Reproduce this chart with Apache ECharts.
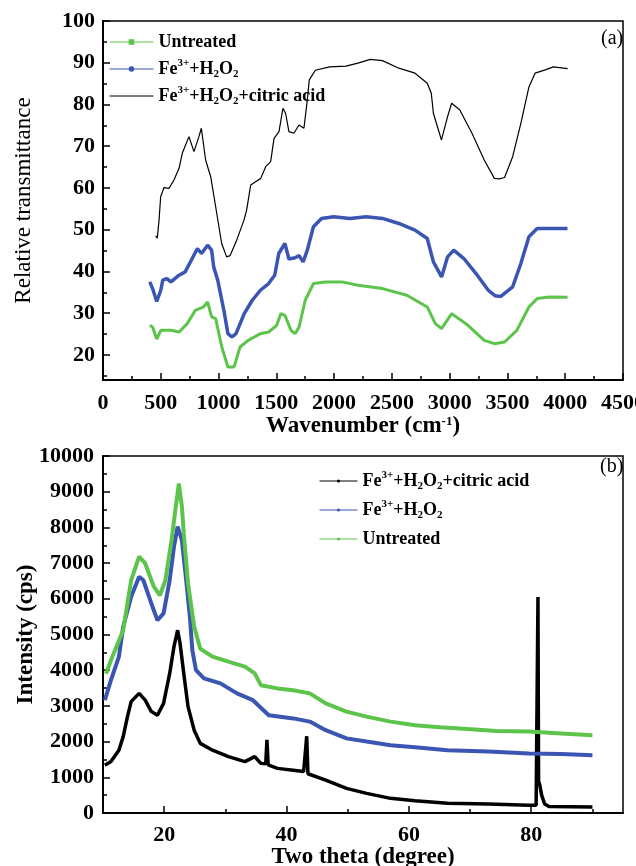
<!DOCTYPE html>
<html><head><meta charset="utf-8">
<script src="https://cdn.jsdelivr.net/npm/echarts@6/dist/echarts.min.js"></script>
<style>html,body{margin:0;padding:0;background:#fff}#c{width:636px;height:866px}</style>
</head><body><div id="c"></div>
<script>
// ---------- (a) FTIR data ----------
const ftirCitricX = [456, 470, 485, 499, 528, 571, 614, 658, 686, 744, 787, 830, 851, 888, 932, 975, 1027, 1070, 1100, 1157, 1220, 1243, 1278, 1321, 1365, 1408, 1451, 1480, 1523, 1557, 1580, 1609, 1652, 1696, 1739, 1768, 1785, 1838, 1961, 2102, 2206, 2313, 2419, 2560, 2700, 2806, 2841, 2859, 2929, 2982, 3017, 3088, 3193, 3299, 3387, 3430, 3475, 3545, 3616, 3686, 3739, 3827, 3897, 4021];
const ftirCitricY = [48.5, 48.0, 52.3, 57.9, 60.1, 59.9, 61.9, 64.7, 68.3, 72.3, 68.7, 72.3, 74.3, 66.7, 62.7, 55.5, 46.7, 43.5, 43.8, 47.5, 52.3, 54.7, 60.7, 61.5, 62.3, 65.1, 66.3, 71.9, 73.5, 79.1, 77.9, 73.5, 73.1, 75.1, 74.3, 81.1, 85.9, 88.2, 89.0, 89.2, 89.9, 90.8, 90.5, 88.7, 87.5, 85.1, 82.7, 77.9, 71.5, 77.1, 80.3, 78.7, 73.1, 66.7, 62.3, 62.2, 62.5, 67.5, 75.5, 84.2, 87.5, 88.3, 89.0, 88.6];
const ftirFeX = [405, 429, 465, 500, 517, 553, 588, 658, 711, 764, 817, 852, 905, 940, 958, 993, 1046, 1081, 1116, 1151, 1222, 1292, 1362, 1433, 1486, 1521, 1574, 1609, 1662, 1697, 1732, 1768, 1821, 1891, 1996, 2137, 2278, 2419, 2560, 2700, 2806, 2859, 2930, 2982, 3035, 3123, 3228, 3334, 3392, 3440, 3545, 3616, 3686, 3757, 3898, 4020];
const ftirFeY = [37.5, 35.9, 32.8, 35.5, 37.9, 38.3, 37.5, 39.1, 39.9, 42.7, 45.5, 44.3, 46.3, 45.1, 41.1, 37.9, 30.7, 25.1, 24.3, 25.1, 29.9, 33.1, 35.5, 37.1, 39.1, 44.3, 46.7, 43.0, 43.3, 43.8, 42.3, 45.1, 50.7, 52.7, 53.1, 52.7, 53.1, 52.7, 51.5, 49.9, 47.9, 42.3, 38.7, 43.5, 45.1, 43.1, 39.5, 35.5, 34.2, 34.0, 36.3, 41.9, 48.3, 50.3, 50.3, 50.3];
const ftirUntreatedX = [405, 429, 465, 500, 588, 658, 729, 799, 870, 905, 940, 975, 1028, 1081, 1134, 1186, 1256, 1310, 1362, 1433, 1503, 1539, 1574, 1627, 1662, 1697, 1750, 1821, 1926, 2067, 2208, 2419, 2630, 2806, 2876, 2930, 3017, 3158, 3299, 3387, 3475, 3581, 3686, 3757, 3862, 4020];
const ftirUntreatedY = [27.1, 26.7, 23.8, 25.9, 25.9, 25.5, 27.5, 30.7, 31.5, 32.7, 29.1, 28.7, 21.9, 17.1, 17.1, 21.9, 23.5, 24.3, 25.1, 25.5, 27.1, 29.9, 29.5, 25.9, 25.1, 26.7, 33.1, 37.1, 37.5, 37.5, 36.7, 35.9, 34.3, 31.5, 27.5, 26.3, 29.9, 27.1, 23.5, 22.7, 23.1, 25.9, 31.5, 33.5, 33.9, 33.8];

// ---------- (b) XRD data ----------
const xrdUntreatedX = [10.5, 11.3, 12.3, 13.3, 14.6, 15.9, 16.9, 18.3, 19.3, 20.2, 21.2, 21.9, 22.4, 22.9, 23.2, 23.9, 24.9, 25.9, 27.9, 30.5, 33.2, 34.8, 35.8, 38.5, 41.1, 43.8, 46.4, 49.8, 53.1, 57.0, 61.0, 65.0, 69.6, 74.3, 79.6, 84.9, 90.0];
const xrdUntreatedY = [3900, 4280, 4700, 5120, 6520, 7180, 6990, 6340, 6100, 6520, 7640, 8580, 9230, 8580, 7830, 6430, 5220, 4600, 4380, 4240, 4100, 3910, 3580, 3490, 3440, 3350, 3070, 2840, 2700, 2560, 2460, 2400, 2350, 2300, 2280, 2230, 2180];
const xrdFeX = [10.3, 11.3, 12.6, 13.3, 14.6, 15.9, 16.6, 17.9, 18.9, 19.9, 20.9, 21.6, 22.2, 22.9, 23.6, 24.2, 24.6, 25.2, 26.5, 29.2, 31.9, 34.5, 37.1, 41.1, 43.8, 46.4, 49.8, 53.1, 57.0, 61.0, 66.3, 73.0, 79.6, 84.9, 90.0];
const xrdFeY = [3160, 3720, 4380, 5220, 6060, 6620, 6520, 5870, 5400, 5590, 6520, 7460, 8020, 7640, 6520, 5500, 4560, 4000, 3770, 3630, 3350, 3160, 2740, 2650, 2560, 2320, 2090, 2000, 1900, 1840, 1760, 1720, 1670, 1650, 1620];
const xrdCitricX = [10.3, 11.3, 12.6, 13.3, 14.0, 14.6, 15.9, 16.9, 17.9, 18.9, 19.9, 20.9, 21.6, 22.2, 22.6, 23.2, 23.9, 24.9, 25.9, 27.9, 30.5, 33.2, 34.8, 35.8, 36.6, 36.8, 37.0, 38.5, 41.1, 42.8, 43.1, 43.3, 43.5, 43.8, 46.4, 49.8, 53.1, 57.0, 61.0, 66.3, 73.0, 79.6, 80.8, 81.1, 81.2, 81.4, 81.7, 82.2, 82.9, 90.0];
const xrdCitricY = [1340, 1440, 1760, 2140, 2700, 3120, 3350, 3160, 2840, 2740, 3070, 3910, 4660, 5120, 4750, 3910, 2980, 2320, 1950, 1760, 1580, 1440, 1580, 1390, 1380, 2050, 1350, 1250, 1200, 1160, 1150, 2150, 1100, 1060, 920, 690, 550, 410, 345, 270, 250, 220, 220, 6050, 900, 780, 500, 250, 180, 170];

// ---------- ticks ----------
const topYLabels = [20, 30, 40, 50, 60, 70, 80, 90, 100];
const topYMinor = [15, 25, 35, 45, 55, 65, 75, 85, 95];
const botXLabels = [20, 40, 60, 80];
const botXMinor = [30, 50, 70, 90];

const legendNames = {
  a_untreated: 'Untreated',
  a_fe: 'Fe{sup|3+}+H{sub|2}O{sub|2}',
  a_citric: 'Fe{sup|3+}+H{sub|2}O{sub|2}+citric acid',
  b_citric: 'Fe{sup|3+}+H{sub|2}O{sub|2}+citric acid',
  b_fe: 'Fe{sup|3+}+H{sub|2}O{sub|2}',
  b_untreated: 'Untreated'
};

const GREEN = '#5cc44a', BLUE = '#3a55b2', BLACK = '#000';
const FONT = 'Liberation Serif';
const zip = (xs, ys) => xs.map((x, i) => [x, ys[i]]);
const plain = v => String(v);

const richSS = {
  sup: {fontFamily: FONT, fontWeight: 'bold', fontSize: 11, verticalAlign: 'top', lineHeight: 11, color: '#000'},
  sub: {fontFamily: FONT, fontWeight: 'bold', fontSize: 11, verticalAlign: 'bottom', lineHeight: 11, color: '#000'}
};

const tickLabel = {fontFamily: FONT, fontWeight: 'bold', fontSize: 22, color: '#000', formatter: plain};
const axLine = {show: true, lineStyle: {color: '#000', width: 2}};

const chart = echarts.init(document.getElementById('c'), null, {renderer: 'canvas'});
chart.setOption({
  animation: false,
  backgroundColor: '#fff',
  grid: [
    {left: 103, top: 21, width: 520, height: 359, show: true, borderColor: '#000', borderWidth: 1.5, containLabel: false, outerBoundsMode: 'none'},
    {left: 103, top: 456, width: 520, height: 357, show: true, borderColor: '#000', borderWidth: 1.5, containLabel: false, outerBoundsMode: 'none'}
  ],
  xAxis: [
    {type: 'value', gridIndex: 0, min: 0, max: 4500, interval: 500,
     axisLine: axLine, axisTick: {inside: true, length: 7, lineStyle: {color: '#000', width: 1.5}},
     minorTick: {show: true, splitNumber: 2, length: 4, lineStyle: {color: '#000', width: 1.5}},
     splitLine: {show: false}, axisLabel: Object.assign({margin: 12}, tickLabel),
     name: 'Wavenumber (cm{sup|-1})', nameLocation: 'middle', nameGap: 35, nameMoveOverlap: false,
     nameTextStyle: {fontFamily: FONT, fontWeight: 'bold', fontSize: 23, color: '#000',
       rich: {sup: {fontFamily: FONT, fontWeight: 'bold', fontSize: 13, verticalAlign: 'top', lineHeight: 13, color: '#000'}}}},
    {type: 'value', gridIndex: 1, min: 10, max: 95,
     axisLine: axLine, axisTick: {inside: true, length: 7, customValues: botXLabels, lineStyle: {color: '#000', width: 1.5}},
     splitLine: {show: false}, axisLabel: Object.assign({margin: 11, customValues: botXLabels}, tickLabel),
     name: 'Two theta (degree)', nameLocation: 'middle', nameGap: 33, nameMoveOverlap: false,
     nameTextStyle: {fontFamily: FONT, fontWeight: 'bold', fontSize: 23, color: '#000'}},
    {type: 'value', gridIndex: 1, min: 10, max: 95, position: 'bottom',
     axisLine: {show: false}, axisLabel: {show: false}, splitLine: {show: false},
     axisTick: {inside: true, length: 4, customValues: botXMinor, lineStyle: {color: '#000', width: 1.5}}}
  ],
  yAxis: [
    {type: 'value', gridIndex: 0, min: 14, max: 100, position: 'left',
     axisLine: axLine, axisTick: {inside: true, length: 7, customValues: topYLabels, lineStyle: {color: '#000', width: 1.5}},
     splitLine: {show: false}, axisLabel: Object.assign({margin: 8, customValues: topYLabels}, tickLabel),
     name: 'Relative transmittance', nameLocation: 'middle', nameGap: 68, nameMoveOverlap: false,
     nameTextStyle: {fontFamily: FONT, fontWeight: 'normal', fontSize: 23, color: '#000'}},
    {type: 'value', gridIndex: 0, min: 14, max: 100, position: 'left',
     axisLine: {show: false}, axisLabel: {show: false}, splitLine: {show: false},
     axisTick: {inside: true, length: 4, customValues: topYMinor, lineStyle: {color: '#000', width: 1.5}}},
    {type: 'value', gridIndex: 1, min: 0, max: 10000, interval: 1000, position: 'left',
     axisLine: axLine, axisTick: {inside: true, length: 7, lineStyle: {color: '#000', width: 1.5}},
     minorTick: {show: true, splitNumber: 2, length: 4, lineStyle: {color: '#000', width: 1.5}},
     splitLine: {show: false}, axisLabel: Object.assign({margin: 9}, tickLabel),
     name: 'Intensity (cps)', nameLocation: 'middle', nameGap: 65, nameMoveOverlap: false,
     nameTextStyle: {fontFamily: FONT, fontWeight: 'bold', fontSize: 23, color: '#000'}}
  ],
  legend: [
    {data: ['a_untreated', 'a_fe', {name: 'a_citric', itemStyle: {opacity: 0}}], orient: 'vertical', left: 104, top: 26,
     itemWidth: 44, itemHeight: 7, itemGap: 5, selectedMode: false,
     lineStyle: {width: 1},
     formatter: n => legendNames[n],
     textStyle: {fontFamily: FONT, fontWeight: 'bold', fontSize: 18, color: '#000', lineHeight: 22, rich: richSS}},
    {data: ['b_citric', 'b_fe', 'b_untreated'], orient: 'vertical', left: 314, top: 465,
     itemWidth: 38, itemHeight: 4, itemGap: 7, selectedMode: false,
     lineStyle: {width: 1},
     formatter: n => legendNames[n],
     textStyle: {fontFamily: FONT, fontWeight: 'bold', fontSize: 18, color: '#000', lineHeight: 22, rich: richSS}}
  ],
  graphic: [
    {type: 'text', left: 601, top: 29, style: {text: '(a)', font: '20px "Liberation Serif"', fill: '#000'}},
    {type: 'text', left: 600, top: 457, style: {text: '(b)', font: '20px "Liberation Serif"', fill: '#000'}}
  ],
  series: [
    {name: 'a_untreated', type: 'line', xAxisIndex: 0, yAxisIndex: 0, data: zip(ftirUntreatedX, ftirUntreatedY),
     symbol: 'rect', showSymbol: false, color: GREEN, lineStyle: {color: GREEN, width: 3}},
    {name: 'a_fe', type: 'line', xAxisIndex: 0, yAxisIndex: 0, data: zip(ftirFeX, ftirFeY),
     symbol: 'circle', showSymbol: false, color: BLUE, lineStyle: {color: BLUE, width: 3.5}},
    {name: 'a_citric', type: 'line', xAxisIndex: 0, yAxisIndex: 0, data: zip(ftirCitricX, ftirCitricY),
     symbol: 'none', color: BLACK, lineStyle: {color: BLACK, width: 1.2}},
    {name: 'b_citric', type: 'line', xAxisIndex: 1, yAxisIndex: 2, data: zip(xrdCitricX, xrdCitricY),
     symbol: 'circle', showSymbol: false, color: BLACK, lineStyle: {color: BLACK, width: 3.5}},
    {name: 'b_fe', type: 'line', xAxisIndex: 1, yAxisIndex: 2, data: zip(xrdFeX, xrdFeY),
     symbol: 'circle', showSymbol: false, color: BLUE, lineStyle: {color: BLUE, width: 4}},
    {name: 'b_untreated', type: 'line', xAxisIndex: 1, yAxisIndex: 2, data: zip(xrdUntreatedX, xrdUntreatedY),
     symbol: 'circle', showSymbol: false, color: GREEN, lineStyle: {color: GREEN, width: 4}}
  ]
});
</script></body></html>
